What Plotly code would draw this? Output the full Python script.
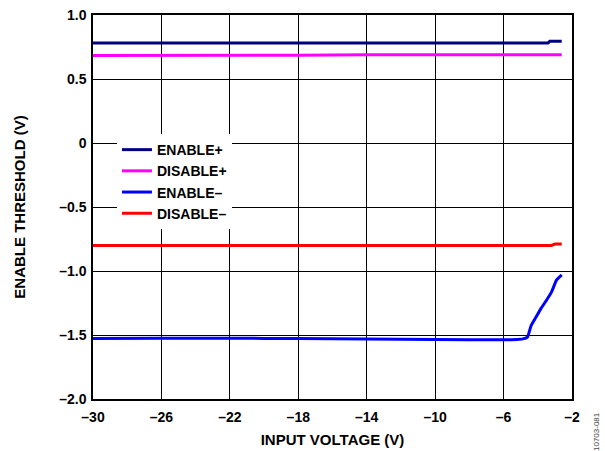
import plotly.graph_objects as go

# Data
v_flat = [-30, -26, -22, -18, -14, -10, -6, -4, -3.4, -3.3, -2.6]
enable_pos = [0.781, 0.781, 0.781, 0.781, 0.781, 0.781, 0.781, 0.781, 0.781, 0.795, 0.795]
disable_pos = [0.684, 0.684, 0.684, 0.686, 0.690, 0.690, 0.690, 0.690, 0.690, 0.690, 0.690]
v_dn = [-30, -26, -22, -18, -14, -10, -6, -4, -3.2, -3.0, -2.6]
disable_neg = [-0.800, -0.800, -0.800, -0.800, -0.800, -0.800, -0.800, -0.800, -0.800, -0.790, -0.790]

v_en = [-30, -26, -22, -18, -14, -10, -6, -5.2, -4.8, -4.6, -4.4, -4.1, -3.8, -3.5, -3.2, -2.9, -2.6]
enable_neg = [-1.527, -1.525, -1.525, -1.528, -1.532, -1.535, -1.537, -1.535, -1.528, -1.515,
              -1.43, -1.36, -1.29, -1.23, -1.165, -1.07, -1.03]

x_ticks = [-30, -26, -22, -18, -14, -10, -6, -2]
x_labels = ["\u201330", "\u201326", "\u201322", "\u201318", "\u201314", "\u201310", "\u20136", "\u20132"]
y_ticks = [1.0, 0.5, 0, -0.5, -1.0, -1.5, -2.0]
y_labels = ["1.0", "0.5", "0", "\u20130.5", "\u20131.0", "\u20131.5", "\u20132.0"]

FAM = "Arial, Liberation Sans, sans-serif"

fig = go.Figure()
fig.add_trace(go.Scatter(x=v_flat, y=enable_pos, mode="lines", name="ENABLE+",
                         line=dict(color="#000080", width=3)))
fig.add_trace(go.Scatter(x=v_flat, y=disable_pos, mode="lines", name="DISABLE+",
                         line=dict(color="#FF00FF", width=3)))
fig.add_trace(go.Scatter(x=v_en, y=enable_neg, mode="lines", name="ENABLE\u2013",
                         line=dict(color="#0000FF", width=3, shape="spline", smoothing=0.4)))
fig.add_trace(go.Scatter(x=v_dn, y=disable_neg, mode="lines", name="DISABLE\u2013",
                         line=dict(color="#FF0000", width=3)))

fig.update_layout(
    width=605, height=451,
    margin=dict(l=93, r=33, t=15, b=52, autoexpand=False),
    paper_bgcolor="white", plot_bgcolor="white",
    font=dict(family=FAM, size=12, color="black"),
    showlegend=True,
    legend=dict(x=0.05, y=0.69, xanchor="left", yanchor="top",
                bgcolor="white", borderwidth=0,
                font=dict(family=FAM, size=14, color="black", weight="bold"),
                tracegroupgap=0, itemwidth=30),
    xaxis=dict(range=[-30, -2], tickvals=x_ticks, ticktext=x_labels,
               showgrid=True, gridcolor="black", gridwidth=1,
               showline=True, linecolor="black", linewidth=1.5, mirror=True,
               ticks="", zeroline=False, automargin=False, ticklabelstandoff=4,
               tickfont=dict(family=FAM, size=14, color="black", weight="bold"),
               title=dict(text="<b>INPUT VOLTAGE (V)</b>", standoff=11,
                          font=dict(family=FAM, size=15, color="black"))),
    yaxis=dict(range=[-2.0, 1.0], tickvals=y_ticks, ticktext=y_labels,
               showgrid=True, gridcolor="black", gridwidth=1,
               showline=True, linecolor="black", linewidth=1.5, mirror=True,
               ticks="", zeroline=False, automargin=False, ticklabelstandoff=2,
               tickfont=dict(family=FAM, size=14, color="black", weight="bold"),
               title=dict(text="<b>ENABLE THRESHOLD (V)</b>", standoff=30,
                          font=dict(family=FAM, size=15, color="black"))),
    annotations=[dict(text="10703-081", xref="paper", yref="paper", x=1.0, y=-0.03,
                      xshift=24, showarrow=False, textangle=-90, xanchor="center", yanchor="top",
                      font=dict(family=FAM, size=8, color="#444444"))],
)

fig.write_html("out.html", config={"displayModeBar": False},
               post_script="document.body.style.margin='0';document.body.style.overflow='hidden';")
